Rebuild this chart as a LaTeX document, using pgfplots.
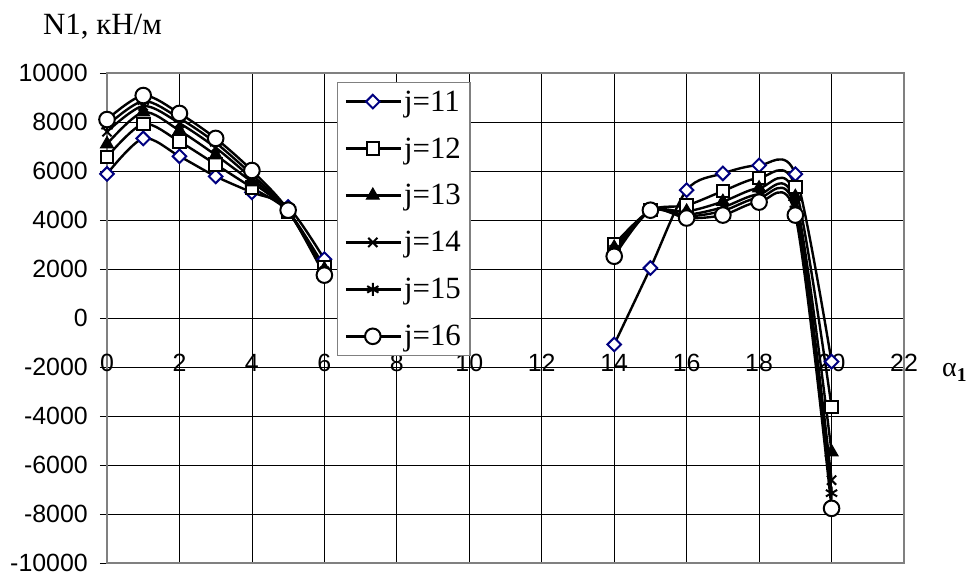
\documentclass[border=0pt]{standalone}
\usepackage{pgfplots}
\usepackage{pgfplotstable}
\pgfplotsset{compat=1.18}
\usepackage{fontspec}
\setmainfont{Liberation Serif}
\newfontfamily\arialfont{Liberation Sans}

\definecolor{navy}{RGB}{0,0,128}
\definecolor{framegray}{RGB}{128,128,128}

% Normal force N1 against angle alpha_1 for sections j = 11..16
\pgfplotstableread{
a   j11    j12    j13    j14    j15    j16
0   5880   6570   7100   7600   7850   8100
1   7330   7920   8400   8650   8850   9080
2   6600   7200   7650   7950   8150   8350
3   5780   6270   6650   6950   7150   7330
4   5130   5320   5550   5700   5850   6020
5   4530   4350   4350   4350   4380   4400
6   2400   2080   2000   1900   1850   1750
nan nan    nan    nan    nan    nan    nan
14  -1080  3000   2880   2780   2650   2520
15  2040   4400   4380   4380   4380   4400
16  5220   4600   4350   4220   4150   4080
17  5900   5180   4750   4520   4370   4200
18  6230   5710   5300   5050   4900   4730
19  5870   5340   4950   4650   4430   4200
20  -1780  -3630  -5470  -6620  -7150  -7770
}\datatable

\begin{document}
\begin{tikzpicture}
\path[use as bounding box] (0bp,0bp) rectangle (971bp,572bp);
\begin{axis}[
  at={(107bp,9bp)}, anchor=south west,
  scale only axis, width=797bp, height=490bp,
  xmin=0, xmax=22, ymin=-10000, ymax=10000,
  xtick={0,2,...,22}, ytick={-10000,-8000,...,10000},
  scaled y ticks=false, scaled x ticks=false,
  grid=major, major grid style={black, line width=0.8bp},
  axis line style={framegray, line width=1.5bp},
  tick align=outside, ytick pos=left, xtick pos=bottom,
  x tick style={draw=none}, y tick style={black, line width=0.8bp},
  major tick length=7bp,
  ticklabel style={font=\arialfont\fontsize{25}{29}\selectfont},
  /pgf/number format/assume math mode=true,
  /pgf/number format/set thousands separator={},
  yticklabel style={anchor=east, inner sep=0pt, xshift=-12bp},
  xticklabel style={anchor=base, inner sep=0pt, yshift=198bp},
  unbounded coords=jump,
  every axis plot/.append style={black, line width=2.4bp, smooth, tension=0.5},
  legend image code/.code={\draw[mark repeat=2,mark phase=2]
      plot coordinates {(0bp,0bp) (27bp,0bp) (55bp,0bp)};},
  legend cell align=left,
  legend style={at={(rel axis cs:0.2886,0.9816)}, anchor=north west,
    draw=framegray, line width=1.2bp, fill=white,
    font=\fontsize{31}{36}\selectfont,
    inner xsep=7bp, inner ysep=6bp, row sep=21bp,
    nodes={inner sep=2bp}},
]
\addplot[black, solid, mark=square*, mark size=4.8bp,
  mark options={solid, rotate=45, draw=navy, fill=white, line width=2bp}]
  table[x=a, y=j11] {\datatable};
\addlegendentry{j=11}
\addplot[black, solid, mark=square*, mark size=6.3bp,
  mark options={solid, draw=black, fill=white, line width=2bp}]
  table[x=a, y=j12] {\datatable};
\addlegendentry{j=12}
\addplot[black, solid, mark=triangle*, mark size=7.5bp,
  mark options={solid, draw=black, fill=black, line width=1bp}]
  table[x=a, y=j13] {\datatable};
\addlegendentry{j=13}
\addplot[black, solid, mark=x, mark size=6.5bp,
  mark options={solid, draw=black, line width=2bp}]
  table[x=a, y=j14] {\datatable};
\addlegendentry{j=14}
\addplot[black, solid, mark=asterisk, mark size=6.5bp,
  mark options={solid, draw=black, line width=2bp}]
  table[x=a, y=j15] {\datatable};
\addlegendentry{j=15}
\addplot[black, solid, mark=*, mark size=7.8bp,
  mark options={solid, draw=black, fill=white, line width=2bp}]
  table[x=a, y=j16] {\datatable};
\addlegendentry{j=16}
\end{axis}
\node[anchor=base west, inner sep=0pt, font=\fontsize{31}{36}\selectfont]
  at (43bp,537bp) {N1, кН/м};
\node[anchor=base west, inner sep=0pt, font=\fontsize{28}{32}\selectfont]
  at (942bp,195bp) {α\textsubscript{\textbf{1}}};
\end{tikzpicture}
\end{document}
